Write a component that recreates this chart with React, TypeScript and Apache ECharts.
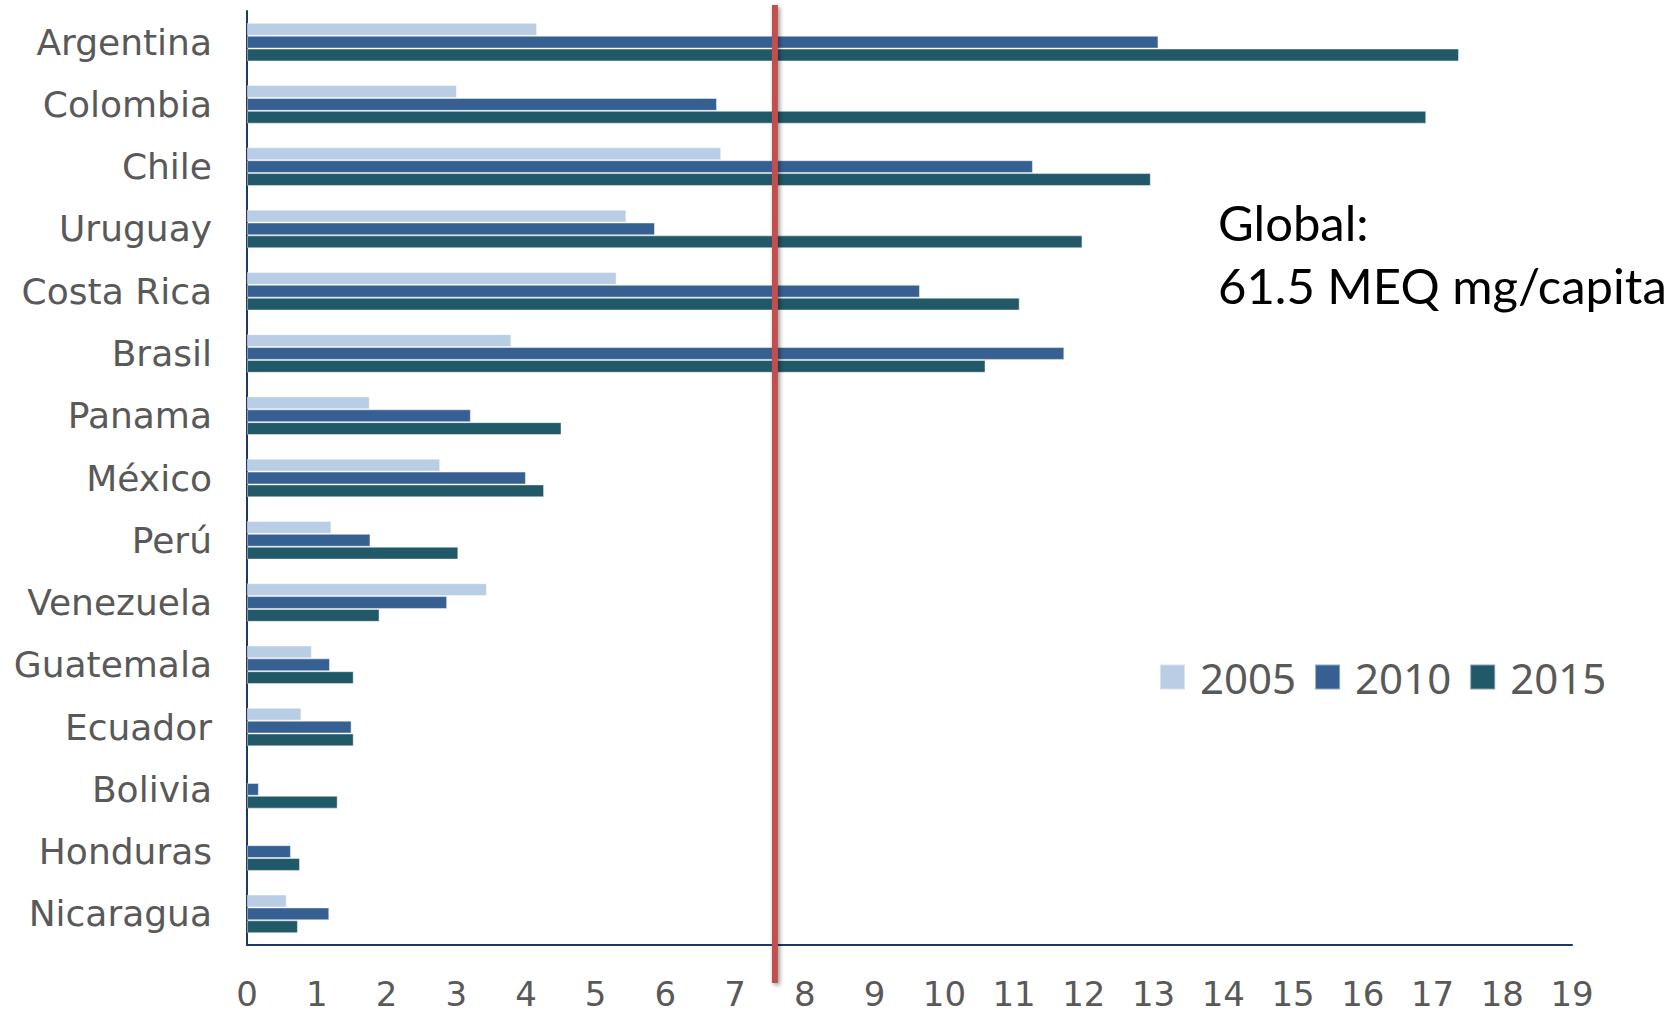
import React, { useEffect, useRef } from "react";
import * as echarts from "echarts";

const countries = [
  "Argentina", "Colombia", "Chile", "Uruguay", "Costa Rica", "Brasil", "Panama",
  "México", "Perú", "Venezuela", "Guatemala", "Ecuador", "Bolivia", "Honduras", "Nicaragua",
];
const years = ["2005", "2010", "2015"];
const values2005 = [4.16, 3.01, 6.8, 5.44, 5.3, 3.79, 1.76, 2.77, 1.21, 3.44, 0.93, 0.78, null, null, 0.57];
const values2010 = [13.07, 6.74, 11.27, 5.85, 9.65, 11.72, 3.21, 4.0, 1.77, 2.87, 1.19, 1.5, 0.17, 0.63, 1.18];
const values2015 = [17.38, 16.91, 12.96, 11.98, 11.08, 10.59, 4.51, 4.26, 3.03, 1.9, 1.53, 1.53, 1.3, 0.76, 0.73];
const colors = ["#B9CDE5", "#376092", "#215968"];
const globalRef = 7.57;
const noteLines = ["Global:", "61.5 MEQ mg/capita"];

export default function App() {
  const ref = useRef<HTMLDivElement>(null);
  useEffect(() => {
    document.body.style.margin = "0";
    const chart = echarts.init(ref.current!, null, { renderer: "svg" });
    const seriesData = [values2005, values2010, values2015];
    chart.setOption({
      animation: false,
      backgroundColor: "#ffffff",
      grid: { left: 247, right: 99, top: 11, bottom: 71, containLabel: false },
      legend: {
        data: years,
        left: 1154,
        top: 651,
        itemWidth: 25,
        itemHeight: 25,
        itemGap: 18,
        icon: "rect",
        textStyle: { fontFamily: "Noto Sans", fontSize: 42, color: "#595959", padding: [0, 0, 0, 10] },
      },
      xAxis: {
        type: "value",
        min: 0,
        max: 19,
        interval: 1,
        axisLine: { show: true, lineStyle: { color: "#1F3864", width: 2 } },
        axisTick: { show: false },
        splitLine: { show: false },
        axisLabel: { fontFamily: "DejaVu Sans", fontSize: 34, color: "#595959", margin: 32 },
      },
      yAxis: {
        type: "category",
        data: countries,
        inverse: true,
        axisLine: { show: true, lineStyle: { color: "#1F3864", width: 2 } },
        axisTick: { show: false },
        axisLabel: { fontFamily: "DejaVu Sans", fontSize: 36, color: "#595959", margin: 35 },
      },
      series: years.map((y, i) => ({
        name: y,
        type: "bar",
        data: seriesData[i],
        barGap: "0%",
        barCategoryGap: "38%",
        itemStyle: { color: colors[i], borderColor: "rgba(255,255,255,0.45)", borderWidth: 1 },
      })),
    });
    const pt = chart.convertToPixel({ gridIndex: 0 }, [globalRef, 0]) as number[];
    let px = pt && isFinite(pt[0]) ? pt[0] : NaN;
    if (!isFinite(px)) {
      const p0 = chart.convertToPixel({ xAxisIndex: 0 }, 0) as number;
      const p1 = chart.convertToPixel({ xAxisIndex: 0 }, 19) as number;
      px = p0 + ((p1 - p0) * globalRef) / 19;
    }
    chart.setOption({
      graphic: [
        {
          type: "rect",
          z: 100,
          shape: { x: px - 3, y: 5, width: 6, height: 978 },
          style: {
            fill: "#C0504D",
            shadowBlur: 4,
            shadowOffsetX: 2,
            shadowOffsetY: 2,
            shadowColor: "rgba(0,0,0,0.4)",
          },
        },
        ...noteLines.map((t, i) => ({
          type: "text",
          x: 1218,
          y: 222 + i * 63,
          style: {
            text: t,
            fontFamily: "Lato",
            fontSize: 49,
            fill: "#000000",
            verticalAlign: "middle",
            align: "left",
          },
        })),
      ],
    });
    return () => chart.dispose();
  }, []);
  return <div ref={ref} style={{ width: 1671, height: 1016 }} />;
}
